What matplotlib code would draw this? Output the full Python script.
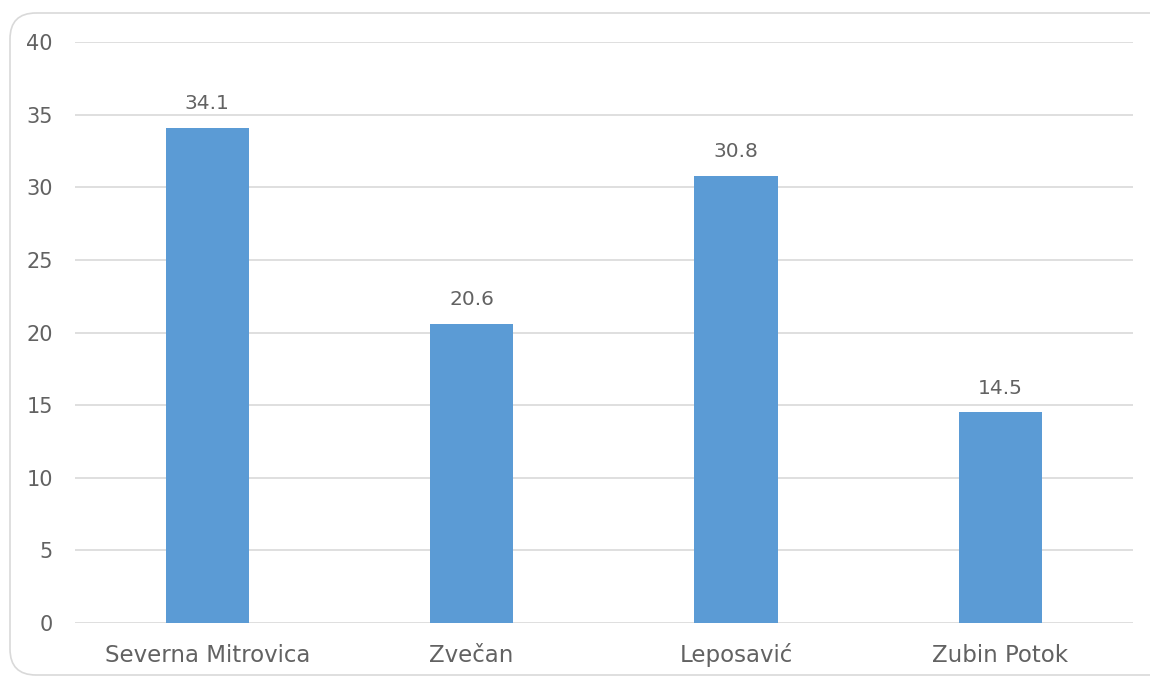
import matplotlib.pyplot as plt
from matplotlib.patches import FancyBboxPatch
import numpy as np

categories = ["Severna Mitrovica", "Zvečan", "Leposavić", "Zubin Potok"]
values = [34.1, 20.6, 30.8, 14.5]
yticks = [0, 5, 10, 15, 20, 25, 30, 35, 40]

plt.rcParams['font.family'] = ['DejaVu Sans']
text_color = '#626262'
bar_color = '#5B9BD5'

W, H = 1150, 677
fig = plt.figure(figsize=(W / 100, H / 100), dpi=100)

# rounded chart border, drawn in pixel units on a background axes
bg = fig.add_axes([0, 0, 1, 1])
bg.set_xlim(0, W)
bg.set_ylim(H, 0)
bg.axis('off')
bg.add_patch(FancyBboxPatch((10, 13), 1168, 662,
                            boxstyle="round,pad=0,rounding_size=26",
                            facecolor='none', edgecolor='#d9d9d9', linewidth=1.2))

ax = fig.add_axes([0.0652, 0.0798, 0.9198, 0.858])
x = np.arange(len(categories))
ax.bar(x, values, width=0.315, color=bar_color, zorder=3)
for xi, v in zip(x, values):
    ax.text(xi, v + 1.0, f"{v}", ha='center', va='bottom', fontsize=14.5, color=text_color)

ax.set_xlim(-0.5, len(categories) - 0.5)
ax.set_ylim(0, 40)
ax.set_yticks(yticks)
ax.set_xticks(x)
ax.set_xticklabels(categories, va='baseline')
ax.grid(axis='y', color='#d9d9d9', linewidth=1.2, zorder=0)
for s in ax.spines.values():
    s.set_visible(False)
ax.tick_params(axis='both', length=0, colors=text_color)
ax.tick_params(axis='y', pad=16, labelsize=15)
ax.tick_params(axis='x', pad=28, labelsize=16.5)

fig.savefig("out.png", dpi=100)
